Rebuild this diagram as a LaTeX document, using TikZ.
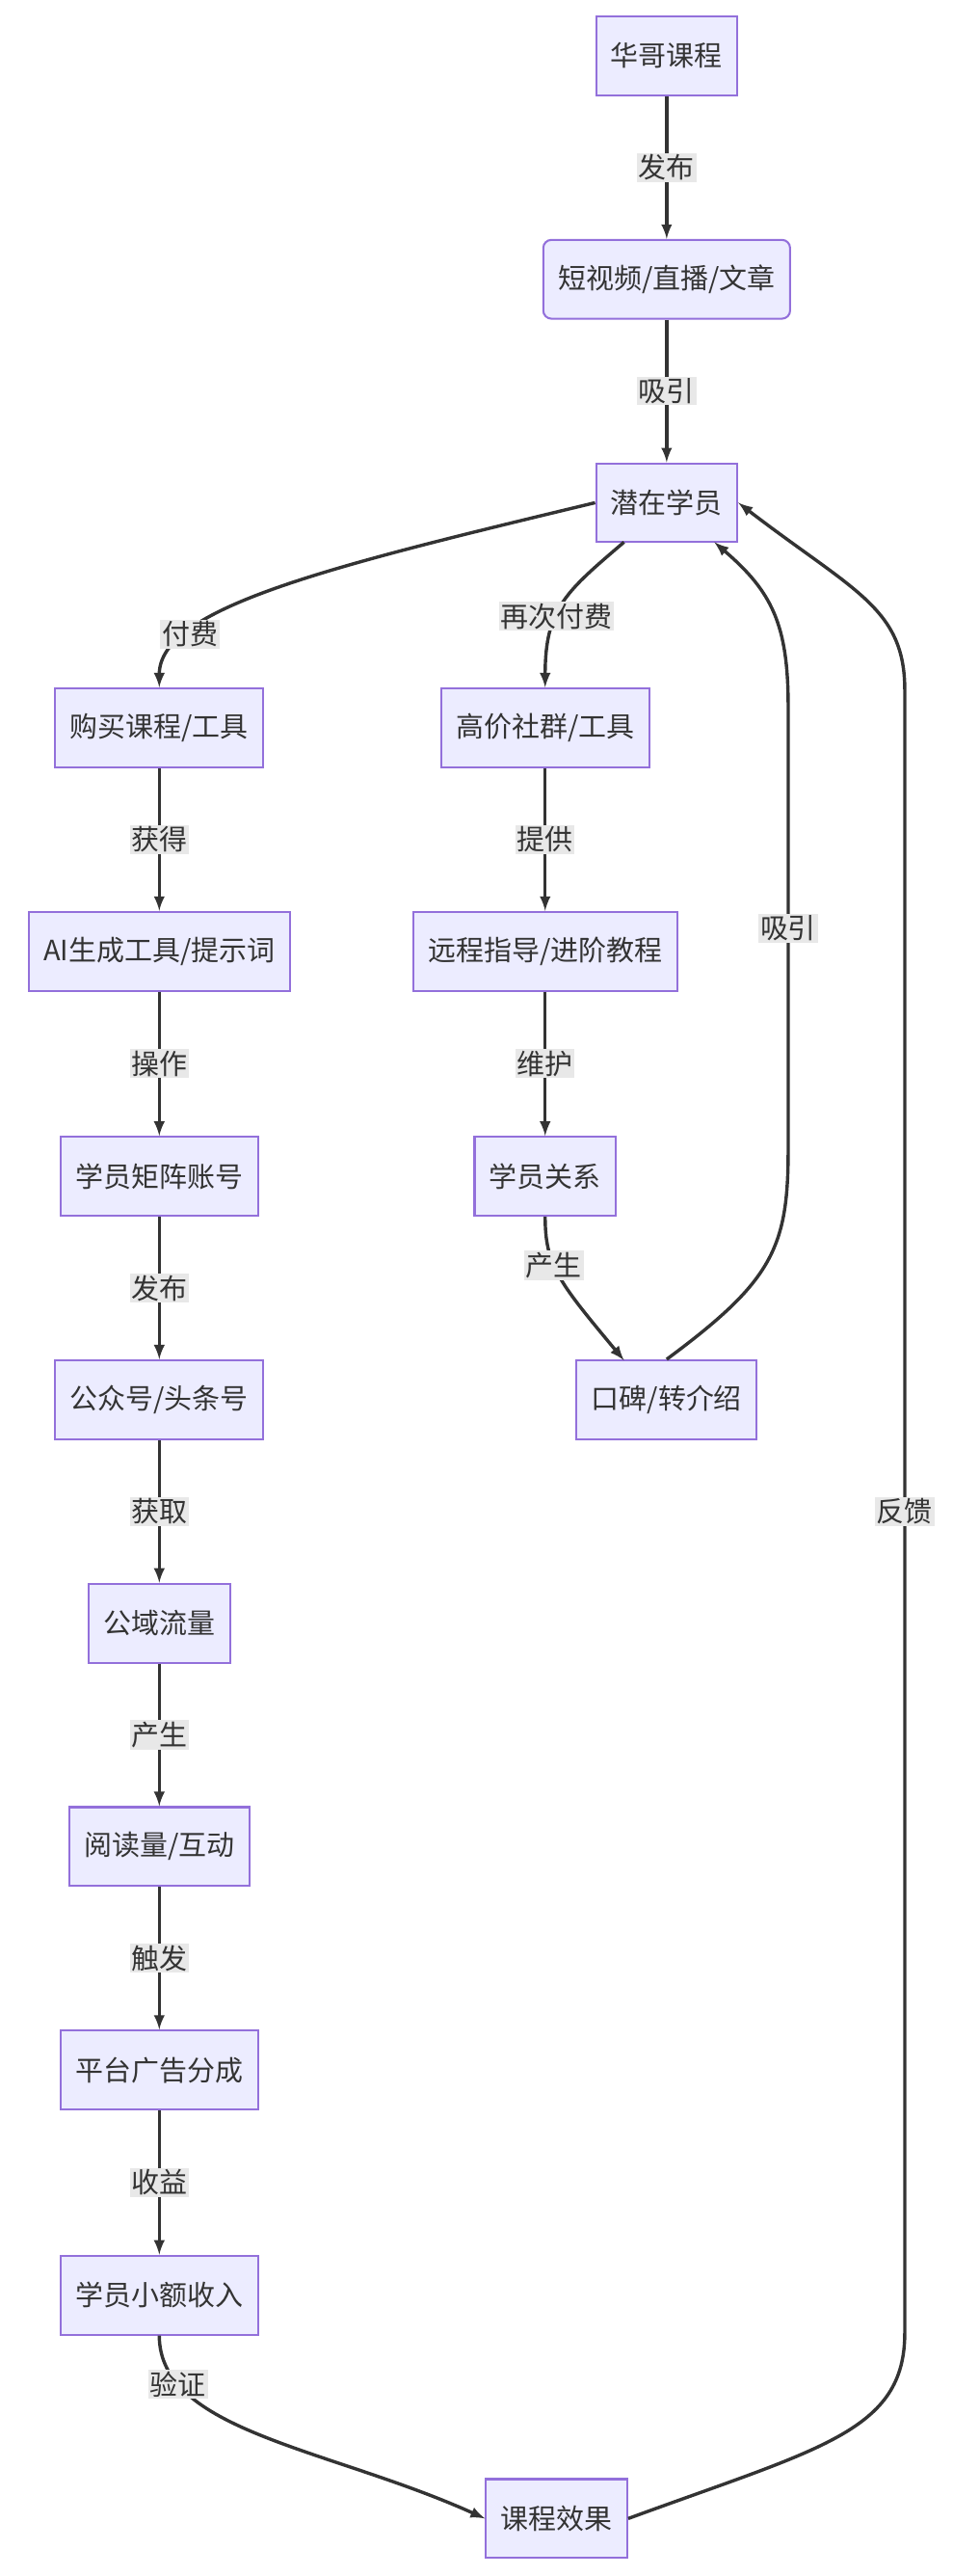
\documentclass[tikz,border=0pt]{standalone}
\usepackage{fontspec}
\setmainfont{Noto Sans CJK SC}
\definecolor{boxfill}{HTML}{ECECFF}
\definecolor{boxline}{HTML}{9370DB}
\definecolor{ink}{HTML}{333333}
\definecolor{lblbg}{HTML}{E8E8E8}
\begin{document}
\begin{tikzpicture}[x=1pt,y=-1pt,font=\fontsize{17}{20}\selectfont,
  box/.style={draw=boxline,fill=boxfill,line width=1.2pt,text=ink,minimum height=48pt,inner xsep=9pt},
  flow/.style={-latex,line width=2pt,draw=ink},
  lbl/.style={fill=lblbg,text=ink,inner sep=1pt}]
  \useasboundingbox (0,0) rectangle (580,1568);

  \node[box] (hg) at (406,34) {华哥课程};
  \node[box,rounded corners=5pt] (sp) at (406,170) {短视频/直播/文章};
  \node[box] (qz) at (406,306) {潜在学员};
  \node[box] (gm) at (97,443) {购买课程/工具};
  \node[box] (gj) at (332,443) {高价社群/工具};
  \node[box] (ai) at (97,579) {AI生成工具/提示词};
  \node[box] (yc) at (332,579) {远程指导/进阶教程};
  \node[box] (jz) at (97,716) {学员矩阵账号};
  \node[box] (gx) at (332,716) {学员关系};
  \node[box] (gz) at (97,852) {公众号/头条号};
  \node[box] (kb) at (406,852) {口碑/转介绍};
  \node[box] (ll) at (97,988) {公域流量};
  \node[box] (yd) at (97,1124) {阅读量/互动};
  \node[box] (gg) at (97,1260) {平台广告分成};
  \node[box] (sr) at (97,1397) {学员小额收入};
  \node[box] (xg) at (339,1533) {课程效果};

  % straight links
  \foreach \a/\b/\t in {hg/sp/发布,sp/qz/吸引,gm/ai/获得,ai/jz/操作,jz/gz/发布,gz/ll/获取,
                        ll/yd/产生,yd/gg/触发,gg/sr/收益,gj/yc/提供,yc/gx/维护}
    \draw[flow] (\a) -- node[lbl] {\t} (\b);

  % curved links
  \draw[flow] (qz.west) .. controls (200,345) and (97,370) .. node[lbl,pos=0.75] {付费} (gm.north);
  \draw[flow] (380,330) .. controls (345,360) and (332,370) .. node[lbl,pos=0.6] {再次付费} (gj.north);
  \draw[flow] (gx.south) .. controls (332,770) and (340,780) .. node[lbl,pos=0.4] {产生} (380,828);
  \draw[flow] (kb.north) .. controls (470,780) and (480,760) .. (480,700)
    -- node[lbl] {吸引} (480,430) .. controls (480,380) and (470,360) .. (435,330);
  \draw[flow] (sr.south) .. controls (97,1480) and (200,1490) .. node[lbl,pos=0.2] {验证} (xg.west);
  \draw[flow] (xg.east) .. controls (500,1490) and (551,1480) .. (551,1420)
    -- node[lbl] {反馈} (551,420) .. controls (551,370) and (520,360) .. (qz.east);
\end{tikzpicture}
\end{document}
